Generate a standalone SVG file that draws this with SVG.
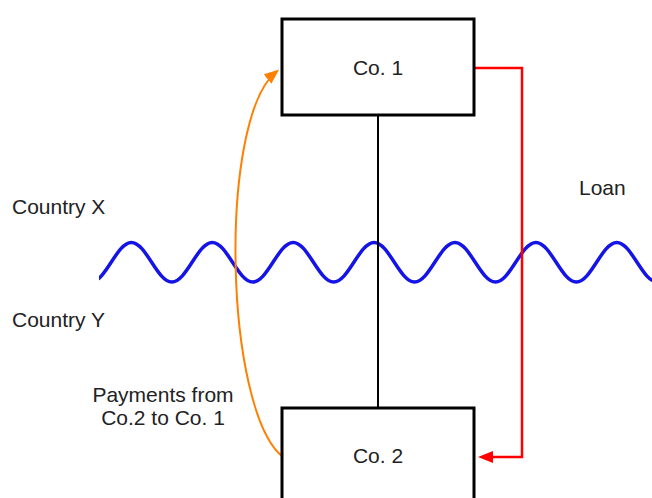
<svg xmlns="http://www.w3.org/2000/svg" width="652" height="498" viewBox="0 0 652 498">
<style>
.box{fill:#fff;stroke:#000;stroke-width:3}
.lbl{font-family:"Liberation Sans",Arial,sans-serif;font-size:21px;fill:#222}
.mid{text-anchor:middle}
</style>
<defs>
<marker id="arrRed" markerUnits="userSpaceOnUse" markerWidth="16" markerHeight="13" refX="9" refY="6" orient="auto">
<path d="M0,0 L15,6 L0,12 z" fill="#ff0000"/>
</marker>
<marker id="arrOrange" markerUnits="userSpaceOnUse" markerWidth="16" markerHeight="13" refX="11" refY="6" orient="auto">
<path d="M0,0 L15,6 L0,12 z" fill="#ff8000"/>
</marker>
<clipPath id="waveClip"><rect x="99" y="200" width="560" height="120"/></clipPath>
</defs>
<rect width="652" height="498" fill="#fff"/>
<g id="border" clip-path="url(#waveClip)">
<path d="M90.95 282 c14.73 0 25.72 -39.5 40.45 -39.5 s25.72 39.5 40.45 39.5 s25.72 -39.5 40.45 -39.5 s25.72 39.5 40.45 39.5 s25.72 -39.5 40.45 -39.5 s25.72 39.5 40.45 39.5 s25.72 -39.5 40.45 -39.5 s25.72 39.5 40.45 39.5 s25.72 -39.5 40.45 -39.5 s25.72 39.5 40.45 39.5 s25.72 -39.5 40.45 -39.5 s25.72 39.5 40.45 39.5 s25.72 -39.5 40.45 -39.5 s25.72 39.5 40.45 39.5" fill="none" stroke="#1414e6" stroke-width="3.5" stroke-linecap="round"/>
</g>
<g id="connectors">
<line x1="378" y1="115" x2="378" y2="408" stroke="#000" stroke-width="2"/>
<path d="M475 68 H522 V457 H484" fill="none" stroke="#ff0000" stroke-width="2.5" marker-end="url(#arrRed)"/>
<path d="M283 457 C224 410 218 120 276 72" fill="none" stroke="#ff8000" stroke-width="2" marker-end="url(#arrOrange)"/>
</g>
<g id="co1">
<rect class="box" x="282" y="19" width="192" height="96"/>
<text class="lbl mid" x="378" y="75">Co. 1</text>
</g>
<g id="co2">
<rect class="box" x="282" y="408" width="192" height="100"/>
<text class="lbl mid" x="378" y="463">Co. 2</text>
</g>
<g id="labels">
<text class="lbl" x="12" y="214">Country X</text>
<text class="lbl" x="12" y="327">Country Y</text>
<text class="lbl" x="579" y="195">Loan</text>
<text class="lbl mid" x="163" y="402">Payments from</text>
<text class="lbl mid" x="163" y="425">Co.2 to Co. 1</text>
</g>
</svg>
